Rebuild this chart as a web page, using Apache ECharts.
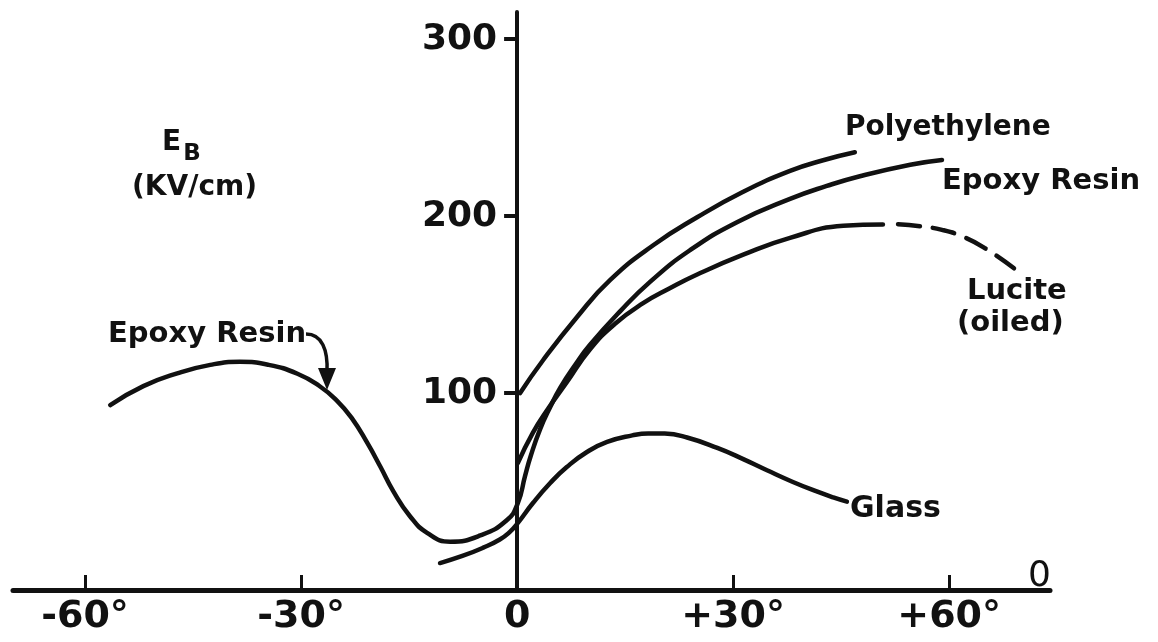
<!DOCTYPE html>
<html>
<head>
<meta charset="utf-8">
<script src="https://cdn.jsdelivr.net/npm/echarts@6/dist/echarts.min.js"></script>
<style>
html,body{margin:0;padding:0;background:#fff;}
#chart{width:1158px;height:642px;}
</style>
</head>
<body>
<div id="chart"></div>
<script>
// ---- data (angle in degrees, E_B in kV/cm) ----
const xTickValues = [-60, -30, 30, 60];
const xLabelValues = [-60, -30, 0, 30, 60];
const xLabelText = {'-60': '-60°', '-30': '-30°', '0': '0', '30': '+30°', '60': '+60°'};
const yTickValues = [100, 200, 300];
const yLabelText = ['100', '200', '300'];

const epoxyResin = [
  [-56.5, 93.1], [-51.9, 103.8], [-47.2, 111.0], [-42.6, 115.8], [-38.5, 117.5],
  [-34.5, 115.8], [-30.5, 110.8], [-27.5, 104.0], [-25.0, 95.5], [-23.0, 86.0],
  [-20.8, 71.7], [-19.0, 58.4], [-17.2, 44.5], [-14.9, 30.5], [-12.5, 21.0],
  [-9.3, 16.0], [-5.1, 19.5], [-1.4, 28.2], [0.1, 37.8], [1.1, 53.0], [1.9, 64.5],
  [3.2, 79.5], [4.6, 92.0], [6.0, 103.0], [8.1, 116.0], [10.1, 127.0],
  [14.3, 146.0], [18.5, 162.8], [24.0, 180.5], [30.6, 196.5], [37.9, 209.5],
  [43.0, 216.8], [47.6, 222.3], [54.6, 228.8], [59.0, 231.5]
];
const polyethylene = [
  [0.4, 99.8], [3.6, 118.4], [8.3, 142.7], [12.9, 163.6], [18.9, 183.3],
  [25.0, 199.1], [31.4, 213.5], [37.9, 225.3], [42.5, 231.3], [46.9, 235.8]
];
const luciteOiled = [
  [0.1, 60.3], [2.2, 77.5], [4.3, 91.0], [6.9, 106.0], [10.1, 124.5],
  [13.6, 139.0], [17.5, 150.6], [21.2, 159.0], [25.0, 166.8], [31.4, 178.0],
  [37.9, 187.5], [45.3, 194.3], [50.8, 195.1]
];
const luciteExtrapolated = [
  [52.9, 195.2], [56.0, 194.0], [59.0, 192.0], [62.0, 188.0], [65.0, 181.6], [69.0, 170.3]
];
const glass = [
  [-10.7, 3.9], [-7.6, 7.9], [-4.7, 12.6], [-2.4, 17.2], [-1.0, 21.5], [0.0, 26.0],
  [2.2, 37.8], [4.6, 49.1], [6.9, 58.1], [9.7, 66.6], [12.5, 72.3], [16.0, 76.0],
  [18.2, 77.1], [20.5, 77.0], [23.6, 74.8], [27.8, 68.9], [31.4, 62.6], [34.7, 56.3],
  [38.3, 49.7], [41.7, 44.2], [43.9, 41.0], [45.8, 38.6]
];

const INK = '#111';
const FONT = "'DejaVu Sans', sans-serif";

function curve(name, data, dash) {
  return {
    name: name, type: 'line', data: data, smooth: 0.5, symbol: 'none',
    silent: true, animation: false,
    lineStyle: {color: INK, width: 4.5, type: dash || 'solid', cap: 'round'}
  };
}

const chart = echarts.init(document.getElementById('chart'), null, {renderer: 'canvas'});

function txt(text, x, y, size, weight, align) {
  return {
    type: 'text', x: x, y: y, silent: true,
    style: {text: text, fill: INK, font: (weight || 'bold') + ' ' + size + 'px ' + FONT,
            textVerticalAlign: 'middle', textAlign: align || 'left'}
  };
}

chart.setOption({
  backgroundColor: '#fff',
  animation: false,
  grid: {left: 13, right: 108, top: 12, bottom: 52, containLabel: false, outerBoundsMode: 'none'},
  xAxis: {
    type: 'value', min: -70, max: 74,
    axisLine: {onZero: false, lineStyle: {color: INK, width: 5}},
    axisTick: {show: true, inside: true, length: 15, customValues: xTickValues, lineStyle: {color: INK, width: 3}},
    axisLabel: {
      customValues: xLabelValues, margin: 8, color: INK,
      fontFamily: FONT, fontSize: 38, fontWeight: 'bold',
      formatter: function (v) { return xLabelText[String(v)]; }
    },
    splitLine: {show: false}
  },
  yAxis: {
    type: 'value', min: -11.3, max: 315,
    axisLine: {show: true, onZero: true, lineStyle: {color: INK, width: 4}},
    axisTick: {show: true, inside: false, length: 13, customValues: yTickValues, lineStyle: {color: INK, width: 4}},
    axisLabel: {show: false},
    splitLine: {show: false}
  },
  series: [
    curve('Epoxy Resin', epoxyResin),
    curve('Polyethylene', polyethylene),
    curve('Lucite (oiled)', luciteOiled),
    curve('Lucite (oiled) extrapolated', luciteExtrapolated, [22, 13]),
    curve('Glass', glass)
  ]
});

// y tick labels placed through the axis scale
const x0 = chart.convertToPixel({xAxisIndex: 0}, 0);
const yLabels = yTickValues.map(function (v, i) {
  return txt(yLabelText[i], x0 - 20, chart.convertToPixel({yAxisIndex: 0}, v) + 1, 36, 'bold', 'right');
});

chart.setOption({
  graphic: yLabels.concat([
    {
      type: 'text', x: 162, y: 147, silent: true,
      style: {
        text: '{e|E}{b|B}', textVerticalAlign: 'middle',
        rich: {
          e: {font: 'bold 28px ' + FONT, fill: INK, verticalAlign: 'top'},
          b: {font: 'bold 23px ' + FONT, fill: INK, verticalAlign: 'bottom', padding: [14, 0, 0, 2]}
        }
      }
    },
    txt('(KV/cm)', 132, 188, 28),
    txt('Epoxy Resin', 108, 334, 29),
    txt('Polyethylene', 845, 128, 28),
    txt('Epoxy Resin', 942, 181, 29),
    txt('Lucite', 967, 291, 29),
    txt('(oiled)', 957, 323, 29),
    txt('Glass', 850, 509, 30),
    txt('0', 1028, 577, 36, 'normal'),
    {
      type: 'bezierCurve', silent: true,
      shape: {x1: 306, y1: 334, cpx1: 322, cpy1: 334, cpx2: 328, cpy2: 350, x2: 327, y2: 372},
      style: {stroke: INK, lineWidth: 3.5, fill: null}
    },
    {
      type: 'polygon', silent: true,
      shape: {points: [[318, 368], [336, 368], [327, 390]]},
      style: {fill: INK}
    }
  ])
});
</script>
</body>
</html>
